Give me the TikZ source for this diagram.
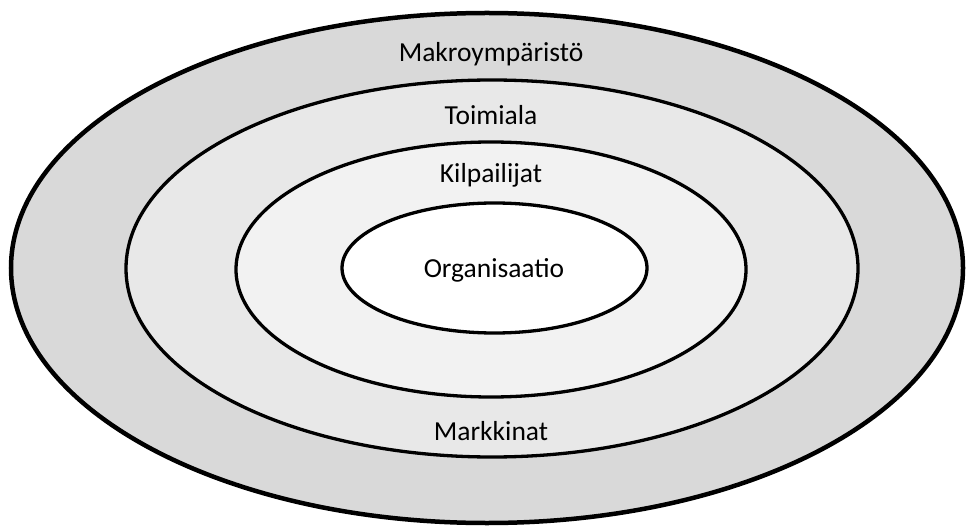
\documentclass[tikz,border=0pt]{standalone}
\usepackage{fontspec}
\setmainfont{Carlito}
\usetikzlibrary{shapes}

\begin{document}
\begin{tikzpicture}[x=1pt,y=-1pt]
\tikzset{
	ring/.style={draw=black, line width=3.3pt},
	ringlbl/.style={anchor=base, font=\fontsize{27.5}{32}\selectfont}
}
\useasboundingbox (0,0) rectangle (966,529);

\draw[ring, line width=4.5pt, fill=black!15] (487,268) ellipse [x radius=476, y radius=255];
\draw[ring, fill=black!9] (492,268.5) ellipse [x radius=366, y radius=188.5];
\draw[ring, fill=black!5] (491,269.5) ellipse [x radius=255, y radius=127.5];
\draw[ring, fill=white] (494.5,268) ellipse [x radius=152.5, y radius=65];

\node[ringlbl] (MakroLBL) at (491,62) {Makroympäristö};
\node[ringlbl] (ToimLBL) at (491,125) {Toimiala};
\node[ringlbl] (KilpLBL) at (491,183) {Kilpailijat};
\node[ringlbl] (OrgLBL) at (494,278) {Organisaatio};
\node[ringlbl] (MarkLBL) at (491,440) {Markkinat};
\end{tikzpicture}
\end{document}
